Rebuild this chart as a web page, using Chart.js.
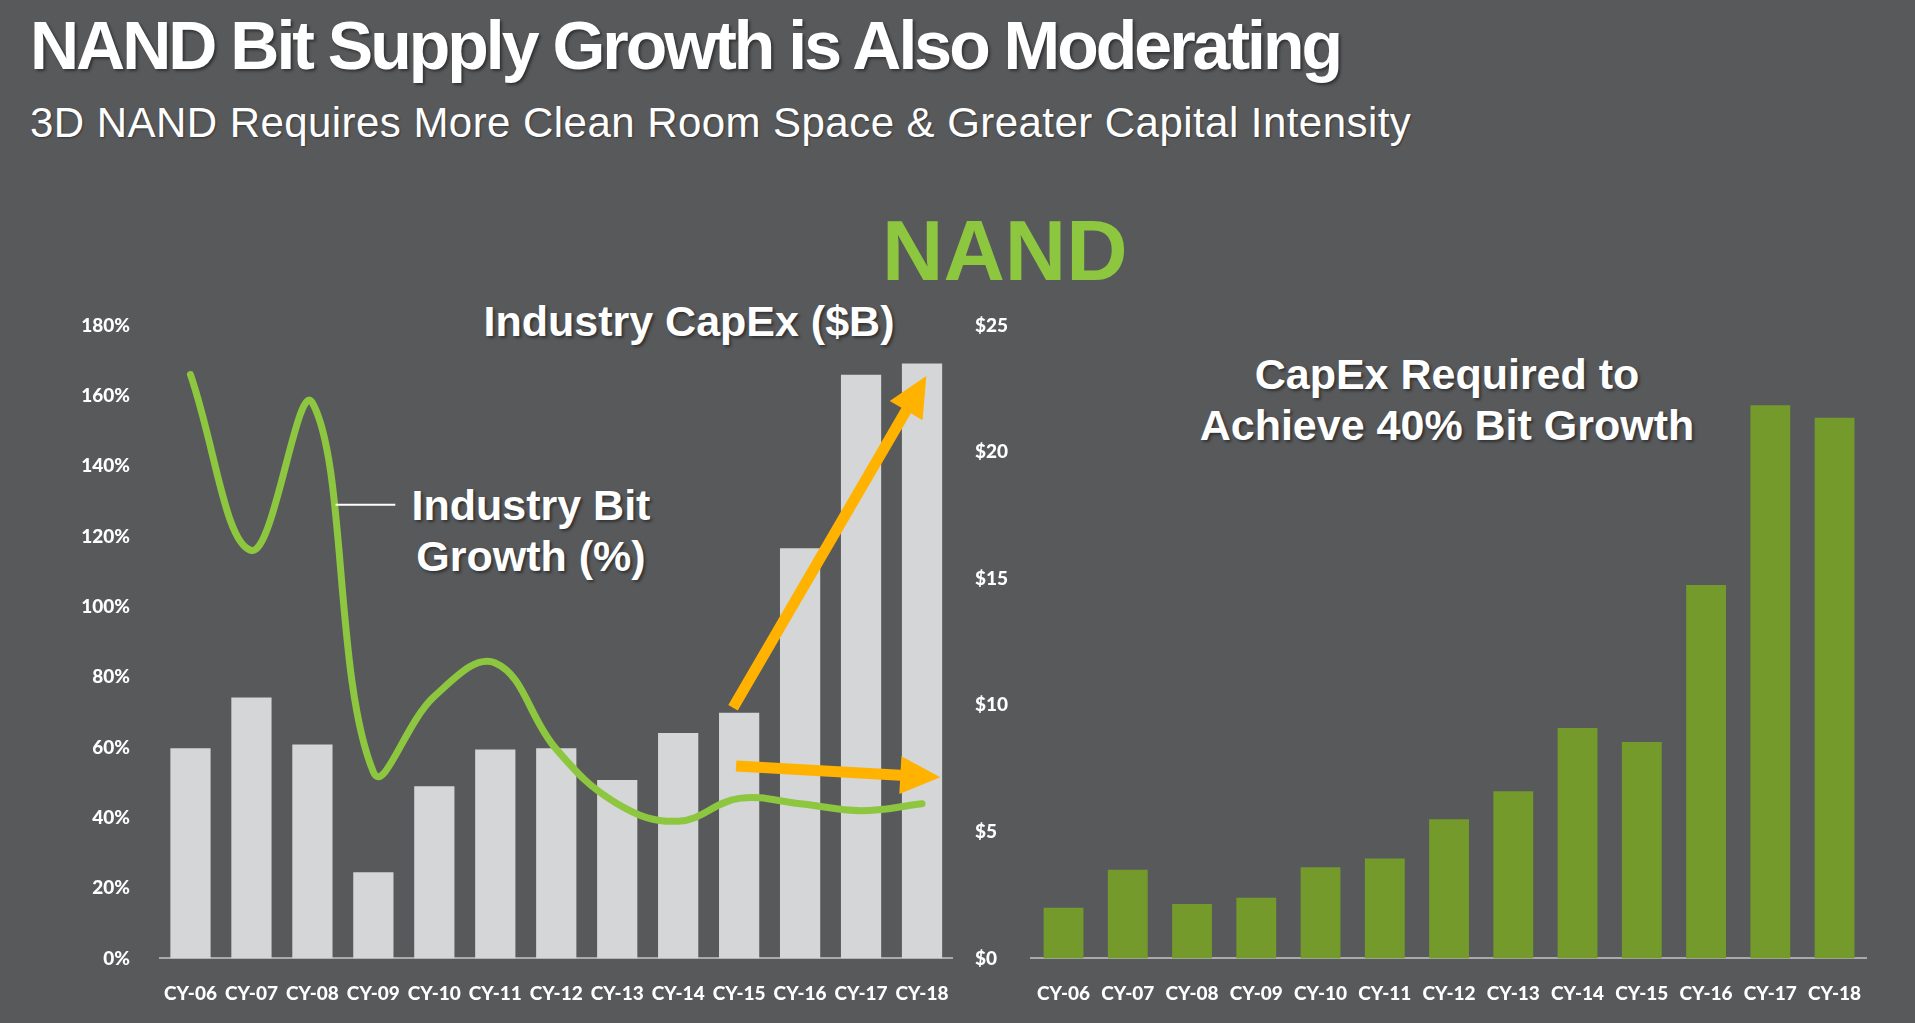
<!DOCTYPE html>
<html>
<head>
<meta charset="utf-8">
<script src="https://cdn.jsdelivr.net/npm/chart.js@4.4.1/dist/chart.umd.min.js"></script>
<style>
  body { margin: 0; background: #58595b; width: 1915px; height: 1023px; overflow: hidden; position: relative; font-family: "Liberation Sans", Arial, sans-serif; }
  canvas { position: absolute; left: 0; top: 0; }
  .txt { position: absolute; color: #fff; white-space: nowrap; text-shadow: 2px 2px 3px rgba(0,0,0,0.45); }
  .ctr { transform: translateX(-50%); text-align: center; }
</style>
</head>
<body>
<div class="txt" style="left:30px;top:11px;font:bold 68px/68px 'Liberation Sans';letter-spacing:-3px;">NAND Bit Supply Growth is Also Moderating</div>
<div class="txt" style="left:30px;top:102px;font:42px/42px 'Liberation Sans';letter-spacing:0.45px;text-shadow:1px 1px 2px rgba(0,0,0,0.4);">3D NAND Requires More Clean Room Space &amp; Greater Capital Intensity</div>
<div class="txt" style="left:882px;top:208px;font:bold 85px/85px 'Liberation Sans';color:#8dc63f;text-shadow:none;">NAND</div>
<div class="txt ctr" style="left:689px;top:300px;font:bold 43px/43px 'Liberation Sans';">Industry CapEx ($B)</div>
<div class="txt ctr" style="left:531px;top:480px;font:bold 43px/51px 'Liberation Sans';">Industry Bit<br>Growth (%)</div>
<div class="txt ctr" style="left:1447px;top:349px;font:bold 43px/51px 'Liberation Sans';">CapEx Required to<br>Achieve 40% Bit Growth</div>

<canvas id="left" width="1915" height="1023"></canvas>
<canvas id="right" width="1915" height="1023"></canvas>

<script>
const years = ["CY-06", "CY-07", "CY-08", "CY-09", "CY-10", "CY-11", "CY-12", "CY-13", "CY-14", "CY-15", "CY-16", "CY-17", "CY-18"];
const industryCapex = [8.3, 10.3, 8.45, 3.4, 6.8, 8.25, 8.3, 7.05, 8.9, 9.7, 16.2, 23.05, 23.5];
const bitGrowth = [166, 116, 158, 53, 74.5, 84, 59.5, 44, 39, 45.5, 44, 42, 44];
const capexFor40 = [2.0, 3.5, 2.15, 2.4, 3.6, 3.95, 5.5, 6.6, 9.1, 8.55, 14.75, 21.85, 21.35];
const pctTicks = [0, 20, 40, 60, 80, 100, 120, 140, 160, 180];
const usdTicks = [0, 5, 10, 15, 20, 25];

// arrow annotations, in (category index, $B)
const arrows = [
  { from: [8.9, 9.9], to: [12.07, 23.0] },
  { from: [8.95, 7.6], to: [12.3, 7.15] }
];

const tickFont = { family: "Lato", weight: "900", size: 19 };
const tickColor = "#ffffff";

function drawArrow(ctx, x1, y1, x2, y2) {
  const ang = Math.atan2(y2 - y1, x2 - x1);
  const len = Math.hypot(x2 - x1, y2 - y1);
  const hl = 40, hw = 19, sw = 5.5;
  ctx.save();
  ctx.translate(x1, y1);
  ctx.rotate(ang);
  ctx.fillStyle = "#ffb300";
  ctx.beginPath();
  ctx.moveTo(0, -sw);
  ctx.lineTo(len - hl, -sw);
  ctx.lineTo(len - hl, -hw);
  ctx.lineTo(len, 0);
  ctx.lineTo(len - hl, hw);
  ctx.lineTo(len - hl, sw);
  ctx.lineTo(0, sw);
  ctx.closePath();
  ctx.fill();
  ctx.restore();
}

const overlay = {
  id: "overlay",
  afterDatasetsDraw(chart) {
    const { ctx, scales: { x, yPct, yUsd } } = chart;
    ctx.save();
    ctx.strokeStyle = "#ffffff";
    ctx.lineWidth = 2;
    ctx.beginPath();
    ctx.moveTo(x.getPixelForValue(2.38), yPct.getPixelForValue(129));
    ctx.lineTo(x.getPixelForValue(3.36), yPct.getPixelForValue(129));
    ctx.stroke();
    ctx.restore();
    arrows.forEach(function (a) {
      drawArrow(ctx,
        x.getPixelForValue(a.from[0]), yUsd.getPixelForValue(a.from[1]),
        x.getPixelForValue(a.to[0]), yUsd.getPixelForValue(a.to[1]));
    });
  }
};

new Chart(document.getElementById("left").getContext("2d"), {
  type: "bar",
  data: {
    labels: years,
    datasets: [
      {
        type: "line",
        label: "Industry Bit Growth (%)",
        data: bitGrowth,
        yAxisID: "yPct",
        borderColor: "#8dc63f",
        borderWidth: 7,
        borderCapStyle: "round",
        tension: 0.4,
        pointRadius: 0,
        order: 0
      },
      {
        label: "Industry CapEx ($B)",
        data: industryCapex,
        yAxisID: "yUsd",
        backgroundColor: "#d5d6d8",
        barPercentage: 0.66,
        categoryPercentage: 1,
        order: 1
      }
    ]
  },
  options: {
    responsive: false,
    animation: false,
    layout: { padding: { left: 0, right: 962.5, top: 325.4, bottom: 0 } },
    plugins: { legend: { display: false }, tooltip: { enabled: false } },
    scales: {
      x: {
        grid: { display: false },
        border: { display: true, color: "#a9aaac", width: 2 },
        ticks: { color: tickColor, font: tickFont, padding: 16, maxRotation: 0 },
        afterFit: function (s) { s.height = 64.6; }
      },
      yPct: {
        position: "left",
        min: 0,
        max: 180,
        afterBuildTicks: function (s) { s.ticks = pctTicks.map(function (v) { return { value: v }; }); },
        grid: { display: false },
        border: { display: false },
        ticks: { color: tickColor, font: tickFont, padding: 22, callback: function (v) { return v + "%"; } },
        afterFit: function (s) { s.width = 160; }
      },
      yUsd: { display: false, min: 0, max: 25 }
    }
  },
  plugins: [overlay]
});

new Chart(document.getElementById("right").getContext("2d"), {
  type: "bar",
  data: {
    labels: years,
    datasets: [
      {
        label: "CapEx Required to Achieve 40% Bit Growth",
        data: capexFor40,
        backgroundColor: "#739a2b",
        barPercentage: 0.62,
        categoryPercentage: 1
      }
    ]
  },
  options: {
    responsive: false,
    animation: false,
    layout: { padding: { left: 975, right: 48.3, top: 325.4, bottom: 0 } },
    plugins: { legend: { display: false }, tooltip: { enabled: false } },
    scales: {
      x: {
        grid: { display: false },
        border: { display: true, color: "#a9aaac", width: 2 },
        ticks: { color: tickColor, font: tickFont, padding: 16, maxRotation: 0 },
        afterFit: function (s) { s.height = 64.6; }
      },
      y: {
        min: 0,
        max: 25,
        afterBuildTicks: function (s) { s.ticks = usdTicks.map(function (v) { return { value: v }; }); },
        grid: { display: false },
        border: { display: false },
        ticks: { color: tickColor, font: tickFont, crossAlign: "far", callback: function (v) { return "$" + v; } },
        afterFit: function (s) { s.width = 56.4; }
      }
    }
  }
});
</script>
</body>
</html>
